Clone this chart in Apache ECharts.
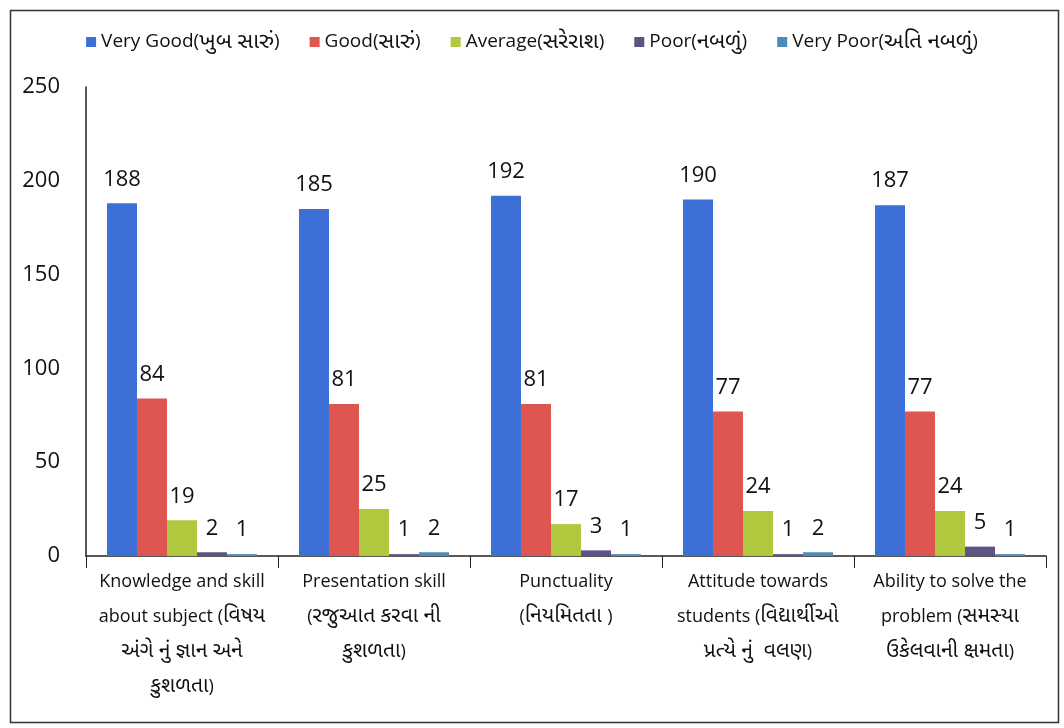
<!DOCTYPE html>
<html><head><meta charset="utf-8">
<script src="https://cdn.jsdelivr.net/npm/echarts@6/dist/echarts.min.js"></script>
<style>html,body{margin:0;padding:0;background:#fff}#c{width:1064px;height:728px}</style>
</head><body><div id="c"></div>
<script>
const categories = [
  "Knowledge and skill\nabout subject (વિષય\nઅંગે નું જ્ઞાન અને\nકુશળતા)",
  "Presentation skill\n(રજુઆત કરવા ની\nકુશળતા)",
  "Punctuality\n(નિયમિતતા )",
  "Attitude towards\nstudents (વિદ્યાર્થીઓ\nપ્રત્યે નું  વલણ)",
  "Ability to solve the\nproblem (સમસ્યા\nઉકેલવાની ક્ષમતા)"
];
const seriesNames = ["Very Good(ખુબ સારું)", "Good(સારું)", "Average(સરેરાશ)", "Poor(નબળું)", "Very Poor(અતિ નબળું)"];
const veryGood = [188, 185, 192, 190, 187];
const good = [84, 81, 81, 77, 77];
const average = [19, 25, 17, 24, 24];
const poor = [2, 1, 3, 1, 5];
const veryPoor = [1, 2, 1, 2, 1];
const yTicks = [0, 50, 100, 150, 200, 250];

const colors = ["#3d6fd6", "#df5550", "#afc83e", "#5f5284", "#4a8bb8"];
const font = "'Open Sans', 'Noto Sans', 'Noto Sans Gujarati', sans-serif";
const values = [veryGood, good, average, poor, veryPoor];

function wrapGu(s) {
  return s.split('\n').map(l => l.replace(/([\u0A80-\u0AFF][\u0A80-\u0AFF ]*)/g, '{g|$1}')).join('\n');
}

const chart = echarts.init(document.getElementById('c'));
chart.setOption({
  backgroundColor: '#ffffff',
  color: colors,
  textStyle: { fontFamily: font },
  graphic: [{ type: 'rect', left: 8, top: 8, shape: { width: 1048, height: 712 }, style: { fill: 'none', stroke: '#333', lineWidth: 1.5 } }],
  legend: {
    top: 26, left: 'center', itemWidth: 10, itemHeight: 10, itemGap: 30,
    icon: 'rect',
    formatter: n => wrapGu(n),
    textStyle: { fontSize: 19, color: '#111', fontFamily: font,
      rich: { g: { fontSize: 22, color: '#111', fontFamily: font } } },
    data: seriesNames
  },
  grid: { left: 86, right: 18, top: 87, bottom: 172, containLabel: false },
  xAxis: {
    type: 'category', data: categories,
    axisLine: { lineStyle: { color: '#222', width: 1.5 } },
    axisTick: { show: true, length: 12, lineStyle: { color: '#222' } },
    axisLabel: { interval: 0, fontSize: 18, color: '#111', lineHeight: 35, margin: 8, fontFamily: font,
      formatter: v => wrapGu(v),
      rich: { g: { fontSize: 21, color: '#111', lineHeight: 35, fontFamily: font } } }
  },
  yAxis: {
    type: 'value', min: yTicks[0], max: yTicks[yTicks.length - 1], interval: 50,
    axisLine: { show: true, lineStyle: { color: '#222', width: 1.5 } },
    axisTick: { show: false },
    splitLine: { show: false },
    axisLabel: { fontSize: 22, color: '#111', margin: 26 }
  },
  series: seriesNames.map((n, i) => ({
    name: n, type: 'bar', data: values[i], barWidth: 30, barGap: '0%', barCategoryGap: '22%',
    itemStyle: { color: colors[i] },
    label: { show: true, position: 'top', fontSize: 22, color: '#111', distance: 13 }
  }))
});
</script></body></html>
